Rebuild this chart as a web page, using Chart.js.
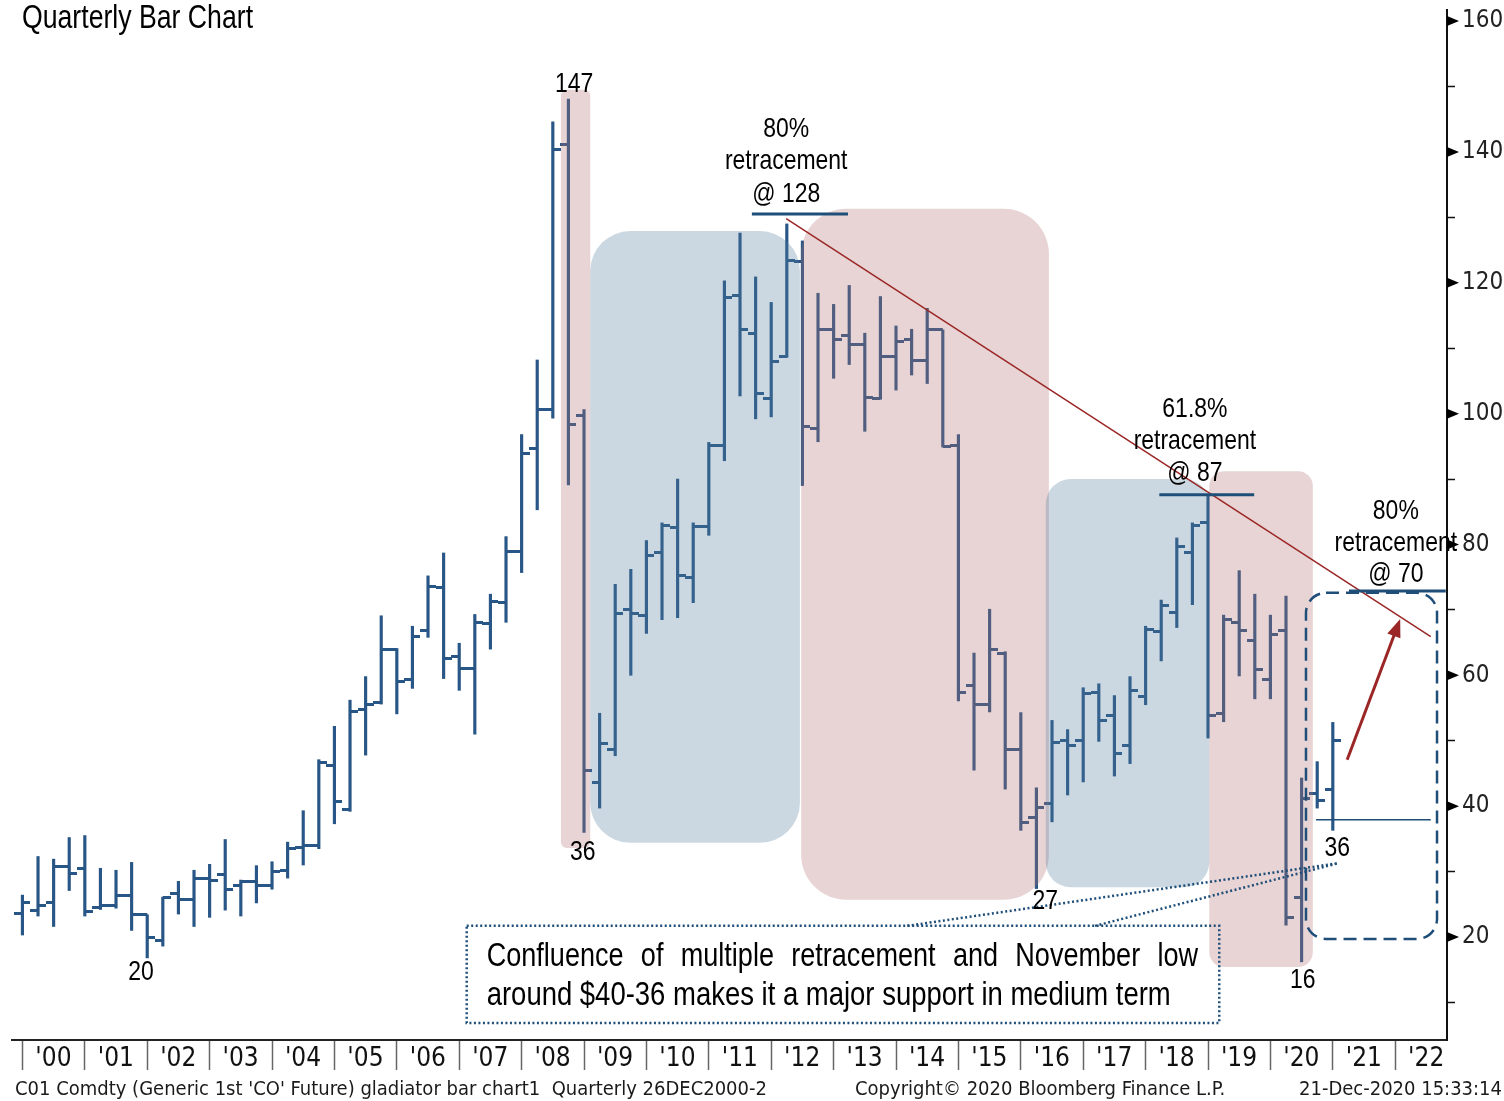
<!DOCTYPE html>
<html>
<head>
<meta charset="utf-8">
<title>Quarterly Bar Chart</title>
<script src="https://cdn.jsdelivr.net/npm/chart.js@4.4.1/dist/chart.umd.min.js"></script>
<style>
  html, body { margin: 0; padding: 0; background: #fff; }
  canvas { display: block; }
</style>
</head>
<body>
<canvas id="chart" width="1504" height="1101"></canvas>
<script>
// ===== DATA =====
// quarterly bars, each one drawn at the end of its quarter
const quarters = [
  '4Q99',
  '1Q00', '2Q00', '3Q00', '4Q00',
  '1Q01', '2Q01', '3Q01', '4Q01',
  '1Q02', '2Q02', '3Q02', '4Q02',
  '1Q03', '2Q03', '3Q03', '4Q03',
  '1Q04', '2Q04', '3Q04', '4Q04',
  '1Q05', '2Q05', '3Q05', '4Q05',
  '1Q06', '2Q06', '3Q06', '4Q06',
  '1Q07', '2Q07', '3Q07', '4Q07',
  '1Q08', '2Q08', '3Q08', '4Q08',
  '1Q09', '2Q09', '3Q09', '4Q09',
  '1Q10', '2Q10', '3Q10', '4Q10',
  '1Q11', '2Q11', '3Q11', '4Q11',
  '1Q12', '2Q12', '3Q12', '4Q12',
  '1Q13', '2Q13', '3Q13', '4Q13',
  '1Q14', '2Q14', '3Q14', '4Q14',
  '1Q15', '2Q15', '3Q15', '4Q15',
  '1Q16', '2Q16', '3Q16', '4Q16',
  '1Q17', '2Q17', '3Q17', '4Q17',
  '1Q18', '2Q18', '3Q18', '4Q18',
  '1Q19', '2Q19', '3Q19', '4Q19',
  '1Q20', '2Q20', '3Q20', '4Q20'
];

const open = [
  23.6,
  24.0, 25.2, 30.7, 30.4,
  24.5, 24.8, 26.3, 23.4,
  19.5, 26.6, 25.8, 29.0,
  29.6, 27.8, 28.5, 27.9,
  30.2, 33.6, 34.0, 46.2,
  39.5, 54.7, 55.9, 63.9,
  59.3, 66.8, 73.4, 62.8,
  61.0, 67.9, 71.1, 79.0,
  94.6, 100.6, 141.1, 99.7,
  43.6, 48.6, 70.1, 69.2,
  78.8, 82.6, 75.0, 82.7,
  95.2, 118.1, 112.2, 102.3,
  108.7, 123.3, 97.8, 112.8,
  111.9, 110.5, 102.3, 108.8,
  111.4, 108.1, 112.8, 95.2,
  58.4, 55.5, 63.4, 48.6,
  38.2, 40.4, 50.1, 50.1,
  57.4, 53.9, 49.2, 56.7,
  66.7, 69.6, 78.8, 83.3,
  54.2, 68.0, 65.3, 59.4,
  66.8, 26.1, 41.9, 42.5
];

const high = [
  26.4,
  32.3, 31.9, 35.2, 35.5,
  30.5, 30.2, 31.4, 23.4,
  26.1, 28.5, 30.2, 31.1,
  34.9, 28.7, 30.9, 31.5,
  34.5, 39.3, 47.1, 52.2,
  56.2, 59.8, 69.1, 64.1,
  67.5, 75.2, 78.7, 64.9,
  69.3, 72.4, 81.2, 96.8,
  108.2, 144.6, 148.1, 100.6,
  54.2, 73.9, 76.2, 80.6,
  83.3, 90.0, 83.3, 95.6,
  120.3, 127.6, 120.9, 117.0,
  129.0, 126.4, 118.4, 116.7,
  119.6, 112.3, 117.9, 113.4,
  112.9, 116.1, 112.8, 96.8,
  63.4, 70.1, 63.6, 54.3,
  42.8, 53.1, 51.7, 58.1,
  58.7, 56.9, 59.8, 67.5,
  71.5, 81.0, 83.3, 87.4,
  69.2, 76.0, 72.4, 69.2,
  72.1, 44.3, 46.8, 52.8
];

const low = [
  20.3,
  23.2, 21.6, 27.1, 23.2,
  24.2, 24.4, 21.0, 16.8,
  18.6, 23.5, 21.6, 23.0,
  24.1, 23.2, 25.2, 27.3,
  29.0, 31.0, 33.5, 37.3,
  39.2, 47.8, 55.6, 54.1,
  58.0, 65.8, 59.5, 57.7,
  51.0, 64.0, 68.1, 75.7,
  85.3, 99.3, 89.1, 36.0,
  39.7, 47.7, 60.0, 66.4,
  68.5, 68.8, 71.1, 81.4,
  92.8, 102.7, 99.2, 99.5,
  108.6, 89.0, 95.7, 105.4,
  107.5, 97.3, 102.2, 103.6,
  105.9, 104.6, 94.9, 56.1,
  45.5, 54.4, 42.6, 36.3,
  27.4, 37.6, 41.7, 43.7,
  49.9, 44.6, 46.5, 55.5,
  62.2, 67.3, 70.8, 50.4,
  52.9, 59.9, 56.4, 56.4,
  21.8, 16.2, 39.7, 36.3
];

const close = [
  25.2,
  24.8, 30.7, 29.7, 23.9,
  24.8, 26.3, 23.4, 19.9,
  26.1, 25.8, 29.0, 28.7,
  27.3, 28.5, 27.8, 30.0,
  33.5, 34.0, 46.7, 40.7,
  54.5, 55.6, 63.9, 59.1,
  66.0, 73.6, 62.5, 61.0,
  68.1, 71.3, 79.0, 93.9,
  100.6, 140.3, 98.3, 45.4,
  49.5, 69.5, 69.5, 78.3,
  82.9, 75.3, 82.7, 95.2,
  117.8, 112.8, 103.1, 107.9,
  123.4, 98.0, 112.8, 111.4,
  110.5, 102.5, 108.8, 111.0,
  108.1, 112.8, 94.9, 57.4,
  55.5, 63.9, 48.6, 37.5,
  39.8, 49.8, 49.2, 57.2,
  53.1, 48.0, 57.7, 67.0,
  70.6, 79.7, 82.9, 53.8,
  68.6, 66.8, 60.9, 66.2,
  22.9, 41.2, 40.9, 50.1
];

const yearTicks = [2000, 2001, 2002, 2003, 2004, 2005, 2006, 2007, 2008, 2009, 2010, 2011,
                   2012, 2013, 2014, 2015, 2016, 2017, 2018, 2019, 2020, 2021, 2022];
const yearLabels = ["'00", "'01", "'02", "'03", "'04", "'05", "'06", "'07", "'08", "'09", "'10", "'11",
                    "'12", "'13", "'14", "'15", "'16", "'17", "'18", "'19", "'20", "'21", "'22"];
const yTicks = [10, 20, 30, 40, 50, 60, 70, 80, 90, 100, 110, 120, 130, 140, 150, 160];
const yLabelled = [20, 40, 60, 80, 100, 120, 140, 160];

// ===== STYLE =====
const BAR = '#285686';
const NAVY = '#1f4e79';
const RED = '#9b2626';
const PINK = 'rgba(178,112,112,0.3)';
const BLUE = 'rgba(82,125,158,0.3)';
const SANS = "'Liberation Sans', Arial, sans-serif";
const COND = "'DejaVu Sans Condensed', 'DejaVu Sans', sans-serif";
const SQUEEZE = 0.82; // no narrow face installed, so squeeze Liberation Sans

// '3Q05' -> 2005.75 (quarter end)
const qEnd = q => {
  const n = +q[0], yy = +q.slice(2);
  return (yy > 50 ? 1900 + yy : 2000 + yy) + n / 4;
};
const xs = quarters.map(qEnd);

// open tick sits left of the bar, close tick right of it
function tickImage(side) {
  const c = document.createElement('canvas');
  c.width = 16; c.height = 3;
  const g = c.getContext('2d');
  g.fillStyle = BAR;
  g.fillRect(side === 'left' ? 0 : 8, 0, 8, 3);
  return c;
}

// annotation layout, in data units (x = year, y = price)
const notes = {
  boxes: [
    { x: [2008.63, 2009.10], y: [149.5, 33.6], r: 6, fill: PINK },
    { x: [2009.10, 2012.46], y: [127.9, 34.4], r: 40, fill: BLUE },
    { x: [2012.48, 2016.45], y: [131.3, 25.7], r: 45, fill: PINK },
    { x: [2016.40, 2019.02], y: [90.0, 27.6], r: 25, fill: BLUE },
    { x: [2019.02, 2020.68], y: [91.2, 15.4], r: 15, fill: PINK }
  ],
  levels: [
    { x: [2011.69, 2013.23], y: 130.5, w: 3 },
    { x: [2018.22, 2019.74], y: 87.6, w: 3 },
    { x: [2021.26, 2022.81], y: 72.9, w: 3 },
    { x: [2020.73, 2022.57], y: 37.9, w: 1.5 }
  ],
  trend: [[2012.24, 129.8], [2022.57, 65.9]],
  arrow: [[2021.23, 47.1], [2022.08, 68.6]],
  dashBox: { x: [2020.57, 2022.67], y: [72.6, 19.7], r: 20 },
  textBox: { x: [2007.12, 2019.18], y: [21.7, 6.85] },
  leaders: [
    [[2014.18, 21.7], [2021.10, 31.3]],
    [[2017.19, 21.7], [2021.10, 31.3]]
  ],
  labels: [
    ['147', 2008.84, 150.4], ['36', 2008.98, 32.9], ['20', 2001.90, 14.6],
    ['27', 2016.39, 25.4], ['16', 2020.52, 13.4], ['36', 2021.07, 33.6],
    ['80%', 2012.24, 143.4], ['retracement', 2012.24, 138.5], ['@ 128', 2012.24, 133.6],
    ['61.8%', 2018.79, 100.7], ['retracement', 2018.79, 95.8], ['@ 87', 2018.79, 90.9],
    ['80%', 2022.01, 85.1], ['retracement', 2022.01, 80.2], ['@ 70', 2022.01, 75.4]
  ],
  boxText: [
    { text: 'Confluence of multiple retracement and November low', x: [2007.44, 2018.84], y: 16.94, justify: true },
    { text: 'around $40-36 makes it a major support in medium term', x: [2007.44, 2018.84], y: 10.98, justify: false }
  ]
};

function roundBox(ctx, x0, y0, x1, y1, r) {
  ctx.beginPath();
  ctx.roundRect(Math.min(x0, x1), Math.min(y0, y1), Math.abs(x1 - x0), Math.abs(y1 - y0), r);
}

function narrowText(ctx, text, x, y, size, align) {
  ctx.save();
  ctx.font = size + 'px ' + SANS;
  ctx.textAlign = align || 'left';
  ctx.textBaseline = 'middle';
  ctx.translate(x, y);
  ctx.scale(SQUEEZE, 1);
  ctx.fillText(text, 0, 0);
  ctx.restore();
}

const overlay = {
  id: 'overlay',
  afterDatasetsDraw(chart) {
    const { ctx, scales: { x, y } } = chart;
    ctx.save();
    notes.boxes.forEach(b => {
      roundBox(ctx, x.getPixelForValue(b.x[0]), y.getPixelForValue(b.y[0]),
               x.getPixelForValue(b.x[1]), y.getPixelForValue(b.y[1]), b.r);
      ctx.fillStyle = b.fill;
      ctx.fill();
    });
    ctx.restore();
  },
  afterDraw(chart) {
    const { ctx, scales: { x, y } } = chart;
    const X = v => x.getPixelForValue(v);
    const Y = v => y.getPixelForValue(v);
    ctx.save();

    // trend line
    ctx.strokeStyle = RED;
    ctx.lineWidth = 1.5;
    ctx.beginPath();
    ctx.moveTo(X(notes.trend[0][0]), Y(notes.trend[0][1]));
    ctx.lineTo(X(notes.trend[1][0]), Y(notes.trend[1][1]));
    ctx.stroke();

    // retracement levels
    ctx.strokeStyle = NAVY;
    notes.levels.forEach(l => {
      ctx.lineWidth = l.w;
      ctx.beginPath();
      ctx.moveTo(X(l.x[0]), Y(l.y));
      ctx.lineTo(X(l.x[1]), Y(l.y));
      ctx.stroke();
    });

    // arrow
    const [a0, a1] = notes.arrow;
    const ax0 = X(a0[0]), ay0 = Y(a0[1]), ax1 = X(a1[0]), ay1 = Y(a1[1]);
    const ang = Math.atan2(ay1 - ay0, ax1 - ax0);
    const head = 18;
    ctx.strokeStyle = RED;
    ctx.fillStyle = RED;
    ctx.lineWidth = 3;
    ctx.beginPath();
    ctx.moveTo(ax0, ay0);
    ctx.lineTo(ax1 - head * 0.8 * Math.cos(ang), ay1 - head * 0.8 * Math.sin(ang));
    ctx.stroke();
    ctx.beginPath();
    ctx.moveTo(ax1, ay1);
    ctx.lineTo(ax1 - head * Math.cos(ang) + 7 * Math.sin(ang), ay1 - head * Math.sin(ang) - 7 * Math.cos(ang));
    ctx.lineTo(ax1 - head * Math.cos(ang) - 7 * Math.sin(ang), ay1 - head * Math.sin(ang) + 7 * Math.cos(ang));
    ctx.closePath();
    ctx.fill();

    // dashed box round the latest bars
    const db = notes.dashBox;
    ctx.strokeStyle = NAVY;
    ctx.lineWidth = 2.5;
    ctx.setLineDash([13, 7]);
    roundBox(ctx, X(db.x[0]), Y(db.y[0]), X(db.x[1]), Y(db.y[1]), db.r);
    ctx.stroke();

    // dotted comment box and leaders
    ctx.setLineDash([2, 2.5]);
    const tb = notes.textBox;
    ctx.beginPath();
    ctx.rect(X(tb.x[0]), Y(tb.y[0]), X(tb.x[1]) - X(tb.x[0]), Y(tb.y[1]) - Y(tb.y[0]));
    ctx.stroke();
    notes.leaders.forEach(([p0, p1]) => {
      ctx.beginPath();
      ctx.moveTo(X(p0[0]), Y(p0[1]));
      ctx.lineTo(X(p1[0]), Y(p1[1]));
      ctx.stroke();
    });
    ctx.setLineDash([]);

    // comment text, first line justified
    ctx.fillStyle = '#000';
    ctx.font = '33px ' + SANS;
    notes.boxText.forEach(t => {
      const x0 = X(t.x[0]), x1 = X(t.x[1]), yy = Y(t.y);
      if (!t.justify) { narrowText(ctx, t.text, x0, yy, 33.5); return; }
      const words = t.text.split(' ');
      const widths = words.map(w => ctx.measureText(w).width * SQUEEZE);
      const gap = (x1 - x0 - widths.reduce((a, b) => a + b, 0)) / (words.length - 1);
      let px = x0;
      words.forEach((w, i) => { narrowText(ctx, w, px, yy, 33); px += widths[i] + gap; });
    });

    // point labels
    notes.labels.forEach(([t, lx, ly]) => narrowText(ctx, t, X(lx), Y(ly), 28, 'center'));

    // right axis markers
    ctx.fillStyle = '#000';
    yLabelled.forEach(v => {
      const py = Y(v), px = y.left;
      ctx.beginPath();
      ctx.moveTo(px, py - 5);
      ctx.lineTo(px + 12, py);
      ctx.lineTo(px, py + 5);
      ctx.closePath();
      ctx.fill();
    });

    // title
    narrowText(ctx, 'Quarterly Bar Chart', 22, 19, 32.5);

    // footer
    ctx.fillStyle = '#1a1a1a';
    ctx.font = '20px ' + COND;
    ctx.textBaseline = 'middle';
    ctx.textAlign = 'left';
    ctx.fillText("C01 Comdty (Generic 1st 'CO' Future) gladiator bar chart1  Quarterly 26DEC2000-2", 15, 1090);
    ctx.fillText('Copyright\u00a9 2020 Bloomberg Finance L.P.', 855, 1090);
    ctx.textAlign = 'right';
    ctx.fillText('21-Dec-2020 15:33:14', 1502, 1090);
    ctx.restore();
  }
};

new Chart(document.getElementById('chart'), {
  type: 'bar',
  data: {
    datasets: [
      {
        type: 'bar',
        data: xs.map((v, i) => ({ x: v, y: [low[i], high[i]] })),
        backgroundColor: BAR,
        barThickness: 2.5,
        grouped: false
      },
      {
        type: 'scatter',
        data: xs.map((v, i) => ({ x: v, y: open[i] })),
        pointStyle: tickImage('left'),
        pointRadius: 5,
        pointHoverRadius: 5,
        showLine: false
      },
      {
        type: 'scatter',
        data: xs.map((v, i) => ({ x: v, y: close[i] })),
        pointStyle: tickImage('right'),
        pointRadius: 5,
        pointHoverRadius: 5,
        showLine: false
      }
    ]
  },
  options: {
    responsive: false,
    devicePixelRatio: 1,
    animation: false,
    events: [],
    layout: { padding: { left: 12, top: 10, right: 0, bottom: 0 } },
    plugins: { legend: { display: false }, tooltip: { enabled: false } },
    scales: {
      x: {
        type: 'linear',
        min: 1999.833,
        max: 2022.83,
        offset: false,
        afterBuildTicks: s => { s.ticks = yearTicks.map(v => ({ value: v })); },
        afterFit: s => { s.height = 61; s.paddingLeft = 0; s.paddingRight = 0; },
        grid: { drawOnChartArea: false, tickLength: 30, tickColor: '#666', tickWidth: 1.5, offset: false },
        border: { color: '#222', width: 2 },
        ticks: {
          autoSkip: false, maxRotation: 0, padding: -26, labelOffset: 31,
          font: { family: COND, size: 26 }, color: '#111',
          callback: (v, i) => yearLabels[i]
        }
      },
      y: {
        position: 'right',
        min: 4.25,
        max: 161.7,
        afterBuildTicks: s => { s.ticks = yTicks.map(v => ({ value: v })); },
        afterFit: s => { s.width = 57; s.paddingTop = 0; s.paddingBottom = 0; },
        grid: { drawOnChartArea: false, tickLength: 8, tickColor: '#111', tickWidth: 1.5 },
        border: { color: '#111', width: 2 },
        ticks: {
          padding: 7,
          font: { family: COND, size: 24 }, color: '#222',
          callback: v => yLabelled.includes(v) ? v : ''
        }
      }
    }
  },
  plugins: [overlay]
});
</script>
</body>
</html>
